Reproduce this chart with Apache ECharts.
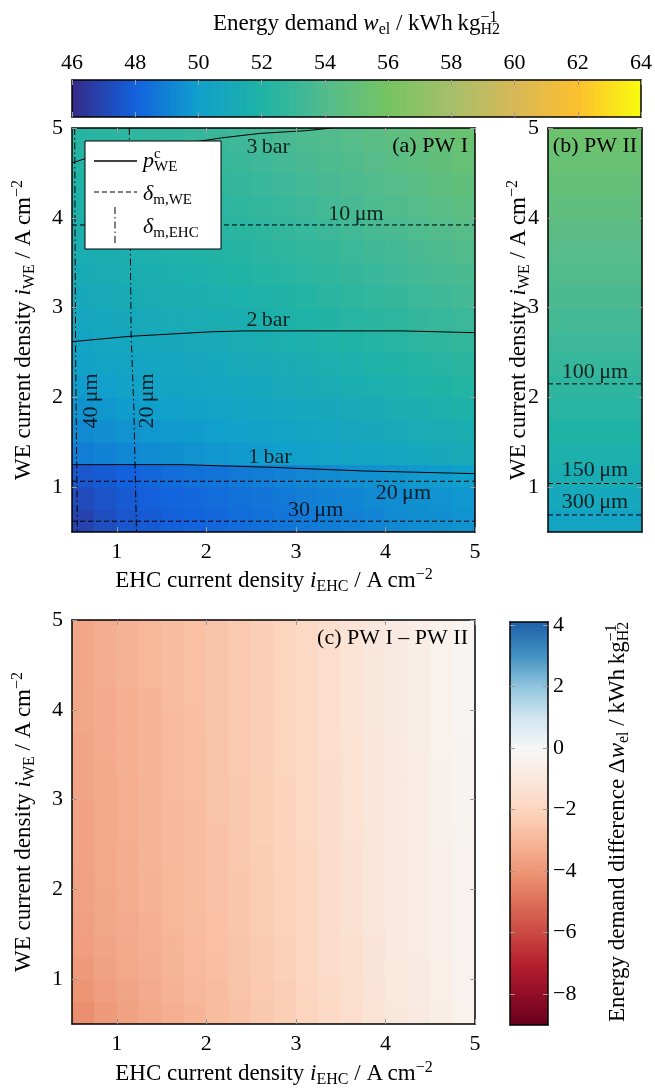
<!DOCTYPE html>
<html><head><meta charset="utf-8">
<script src="https://cdn.jsdelivr.net/npm/echarts@6/dist/echarts.min.js"></script>
<style>html,body{margin:0;padding:0;background:#fff}#c{width:655px;height:1089px}</style>
</head><body><div id="c"></div>
<script>
// ---------------- data ----------------
// cell centres (A cm^-2)
const ehcCells = [0.625,0.875,1.125,1.375,1.625,1.875,2.125,2.375,2.625,2.875,3.125,3.375,3.625,3.875,4.125,4.375,4.625,4.875];
const weCells  = [0.625,0.875,1.125,1.375,1.625,1.875,2.125,2.375,2.625,2.875,3.125,3.375,3.625,3.875,4.125,4.375,4.625,4.875];
// (a) PW I energy demand, rows = WE (bottom -> top), cols = EHC
const pw1Rows = [
 [46.9,47.3,47.6,47.8,47.95,48.1,48.2,48.35,48.5,48.65,48.8,48.9,49.0,49.15,49.3,49.4,49.5,49.6],
 [47.2,47.5,47.75,47.95,48.1,48.25,48.35,48.5,48.65,48.8,48.95,49.05,49.15,49.3,49.4,49.5,49.6,49.7],
 [47.6,47.8,48.0,48.2,48.35,48.5,48.6,48.75,48.9,49.05,49.2,49.3,49.45,49.55,49.65,49.8,49.9,50.0],
 [48.9,49.05,49.2,49.35,49.5,49.6,49.7,49.8,49.9,50.0,50.15,50.3,50.4,50.55,50.7,50.8,50.95,51.1],
 [49.3,49.45,49.6,49.7,49.8,49.9,50.0,50.1,50.2,50.35,50.5,50.6,50.75,50.9,51.0,51.15,51.3,51.4],
 [49.6,49.75,49.9,50.0,50.1,50.2,50.3,50.4,50.5,50.65,50.8,50.9,51.05,51.2,51.35,51.5,51.65,51.8],
 [49.9,50.05,50.2,50.3,50.4,50.5,50.6,50.7,50.85,51.0,51.1,51.25,51.4,51.55,51.7,51.85,52.0,52.15],
 [50.2,50.35,50.45,50.55,50.65,50.75,50.85,51.0,51.1,51.25,51.4,51.55,51.7,51.85,52.0,52.15,52.3,52.45],
 [50.45,50.6,50.7,50.8,50.9,51.0,51.1,51.25,51.4,51.55,51.7,51.85,52.0,52.15,52.3,52.5,52.65,52.8],
 [50.7,50.85,50.95,51.05,51.15,51.25,51.35,51.5,51.65,51.8,51.95,52.1,52.3,52.45,52.6,52.8,52.95,53.1],
 [50.95,51.1,51.2,51.3,51.4,51.5,51.6,51.75,51.9,52.05,52.2,52.4,52.55,52.75,52.9,53.1,53.25,53.4],
 [51.2,51.3,51.4,51.5,51.6,51.75,51.85,52.0,52.15,52.3,52.5,52.65,52.85,53.0,53.2,53.4,53.55,53.7],
 [51.4,51.5,51.6,51.7,51.85,51.95,52.1,52.25,52.4,52.55,52.75,52.9,53.1,53.3,53.45,53.65,53.85,54.0],
 [51.6,51.7,51.8,51.9,52.05,52.15,52.3,52.45,52.6,52.8,52.95,53.15,53.35,53.55,53.7,53.9,54.1,54.3],
 [51.8,51.9,52.0,52.1,52.25,52.35,52.5,52.65,52.8,53.0,53.2,53.4,53.6,53.8,54.0,54.2,54.4,54.6],
 [52.0,52.1,52.2,52.3,52.45,52.55,52.7,52.85,53.0,53.2,53.4,53.6,53.8,54.0,54.2,54.45,54.65,54.85],
 [52.15,52.25,52.35,52.5,52.6,52.75,52.9,53.05,53.2,53.4,53.6,53.8,54.0,54.25,54.45,54.65,54.9,55.1],
 [52.3,52.4,52.5,52.65,52.8,52.9,53.05,53.2,53.4,53.6,53.8,54.0,54.2,54.45,54.65,54.9,55.1,55.3]
];
// (b) PW II energy demand by WE current density (bottom -> top)
const pw2Col = [50.4,50.8,51.3,51.7,52.0,52.3,52.6,52.9,53.2,53.5,53.75,54.0,54.25,54.5,54.75,55.0,55.25,55.5];
// (c) difference PW I - PW II
const diffRows = [
 [-4.2,-3.9,-3.65,-3.45,-3.25,-3.05,-2.85,-2.65,-2.45,-2.25,-2.0,-1.75,-1.5,-1.25,-1.0,-0.8,-0.6,-0.4],
 [-4.0,-3.75,-3.55,-3.35,-3.15,-2.95,-2.8,-2.6,-2.4,-2.2,-1.95,-1.7,-1.45,-1.2,-0.95,-0.75,-0.55,-0.35],
 [-3.85,-3.65,-3.45,-3.3,-3.1,-2.9,-2.75,-2.55,-2.35,-2.15,-1.9,-1.65,-1.4,-1.15,-0.95,-0.75,-0.55,-0.35],
 [-3.75,-3.55,-3.4,-3.25,-3.05,-2.9,-2.7,-2.55,-2.35,-2.15,-1.9,-1.65,-1.4,-1.15,-0.9,-0.7,-0.5,-0.3],
 [-3.7,-3.5,-3.35,-3.2,-3.0,-2.85,-2.7,-2.5,-2.3,-2.1,-1.85,-1.6,-1.35,-1.1,-0.9,-0.7,-0.5,-0.3],
 [-3.65,-3.5,-3.3,-3.15,-3.0,-2.85,-2.65,-2.5,-2.3,-2.1,-1.85,-1.6,-1.35,-1.1,-0.9,-0.7,-0.5,-0.3],
 [-3.65,-3.45,-3.3,-3.15,-3.0,-2.8,-2.65,-2.5,-2.3,-2.1,-1.85,-1.6,-1.35,-1.1,-0.9,-0.7,-0.5,-0.3],
 [-3.6,-3.45,-3.3,-3.1,-2.95,-2.8,-2.65,-2.45,-2.3,-2.05,-1.85,-1.6,-1.35,-1.1,-0.9,-0.7,-0.5,-0.3],
 [-3.6,-3.4,-3.25,-3.1,-2.95,-2.8,-2.65,-2.45,-2.25,-2.05,-1.8,-1.55,-1.3,-1.1,-0.85,-0.65,-0.45,-0.3],
 [-3.6,-3.4,-3.25,-3.1,-2.95,-2.8,-2.6,-2.45,-2.25,-2.05,-1.8,-1.55,-1.3,-1.05,-0.85,-0.65,-0.45,-0.25],
 [-3.55,-3.4,-3.25,-3.1,-2.9,-2.75,-2.6,-2.45,-2.25,-2.05,-1.8,-1.55,-1.3,-1.05,-0.85,-0.65,-0.45,-0.25],
 [-3.55,-3.4,-3.2,-3.05,-2.9,-2.75,-2.6,-2.4,-2.2,-2.0,-1.8,-1.55,-1.3,-1.05,-0.85,-0.65,-0.45,-0.25],
 [-3.55,-3.35,-3.2,-3.05,-2.9,-2.75,-2.6,-2.4,-2.2,-2.0,-1.75,-1.5,-1.3,-1.05,-0.85,-0.6,-0.4,-0.25],
 [-3.5,-3.35,-3.2,-3.05,-2.9,-2.75,-2.55,-2.4,-2.2,-2.0,-1.75,-1.5,-1.25,-1.0,-0.8,-0.6,-0.4,-0.2],
 [-3.5,-3.35,-3.2,-3.05,-2.85,-2.7,-2.55,-2.4,-2.2,-2.0,-1.75,-1.5,-1.25,-1.0,-0.8,-0.6,-0.4,-0.2],
 [-3.5,-3.3,-3.15,-3.0,-2.85,-2.7,-2.55,-2.4,-2.2,-2.0,-1.75,-1.5,-1.25,-1.0,-0.8,-0.6,-0.4,-0.2],
 [-3.5,-3.3,-3.15,-3.0,-2.85,-2.7,-2.55,-2.4,-2.2,-2.0,-1.75,-1.5,-1.25,-1.0,-0.8,-0.6,-0.4,-0.2],
 [-3.5,-3.3,-3.15,-3.0,-2.85,-2.7,-2.55,-2.4,-2.2,-2.0,-1.75,-1.5,-1.25,-1.0,-0.8,-0.6,-0.4,-0.2]
];
// compressor pressure contours p_WE^c (panel a)
const bar1X = [0.5,1.73,2.74,3.75,5.0];           const bar1Y = [1.25,1.25,1.22,1.18,1.15];
const bar2X = [0.5,1.15,2.06,2.43,4.19,5.0];      const bar2Y = [2.62,2.68,2.73,2.74,2.74,2.72];
const bar3X = [0.5,0.65,2.17,2.6,3.11,3.4];       const bar3Y = [4.61,4.66,4.89,4.94,4.97,5.0];
// membrane thickness delta_m,WE (horizontal, panel a)
const weMem10 = 3.92, weMem20 = 1.065, weMem30 = 0.62;
// membrane thickness delta_m,EHC (vertical, panel a)
const ehc40X = [0.53,0.54,0.56];        const ehc40Y = [5.0,2.5,0.5];
const ehc20X = [1.14,1.16,1.19,1.22];   const ehc20Y = [5.0,2.7,1.9,0.5];
// panel b membrane thickness levels
const pw2Mem100 = 2.15, pw2Mem150 = 1.04, pw2Mem300 = 0.69;
// tick values
const mainTicks = [1,2,3,4,5];
const diffTicks = [-8,-6,-4,-2,0,2,4];
// annotation anchors (data coords)
const annotA = [['3\u2009bar',2.69,4.79],['2\u2009bar',2.69,2.86],['1\u2009bar',2.71,1.33],
                ['10\u2009μm',3.67,4.04],['20\u2009μm',4.2,0.93],['30\u2009μm',3.22,0.74]];
const annotAVert = [['40\u2009μm',0.71,1.96],['20\u2009μm',1.34,1.96]];
const annotB = [['100\u2009μm',0.5,2.28],['150\u2009μm',0.5,1.19],['300\u2009μm',0.5,0.83]];

// ---------------- styling ----------------
const FONT = '"Liberation Serif","DejaVu Serif",serif';
const FS = 22, TFS = 23, SFS = 16;
const parula = ['#352a87','#1361dd','#10a0cc','#1fb3a6','#52bb8e','#76c463','#a6bf6b','#d7b858','#fcc02f','#f9fb0e'];
const rdbu = ['#67001f','#910d26','#b6202f','#ca4842','#dd6f59','#ed9676','#f7b799','#fcd5bf','#fae7dc','#f7f7f7','#d1e5f0','#92c5de','#4393c3','#2166ac'];

const pairs = (xs, ys) => xs.map((x, i) => [x, ys[i]]);
const heatA = []; pw1Rows.forEach((row, r) => row.forEach((v, c) => heatA.push([ehcCells[c], weCells[r], v])));
const heatC = []; diffRows.forEach((row, r) => row.forEach((v, c) => heatC.push([ehcCells[c], weCells[r], v])));
const heatB = pw2Col.map((v, r) => [0.5, weCells[r], v]);
const cbTop = []; for (let k = 0; k <= 360; k++) { const v = 46 + k * 0.05; cbTop.push([v, 0.5, v]); }
const cbDiff = []; for (let k = 0; k <= 262; k++) { const v = -9 + k * 0.05; cbDiff.push([0.5, v, v]); }

function cellRender(hw, hh) {
  return function (params, api) {
    const x = api.value(0), y = api.value(1);
    const p0 = api.coord([x - hw, y + hh]);
    const p1 = api.coord([x + hw, y - hh]);
    return { type: 'rect', shape: { x: p0[0] - 0.3, y: p0[1] - 0.3, width: p1[0] - p0[0] + 0.8, height: p1[1] - p0[1] + 0.8 },
             style: { fill: api.visual('color') } };
  };
}
const frameLine = { show: true, onZero: false, lineStyle: { color: '#000', width: 1.5 } };
const tickIn = (vals) => ({ show: true, inside: true, length: 5, lineStyle: { color: '#9a9a9a', width: 1 }, customValues: vals });
const lab = (vals, margin) => ({ show: true, color: '#000', fontSize: FS, fontFamily: FONT, margin: margin, customValues: vals });
function ax(extra) {
  return Object.assign({ type: 'value', axisLine: frameLine, axisTick: { show: false }, axisLabel: { show: false },
    splitLine: { show: false }, z: 10 }, extra);
}

const xAxis = [
  ax({ gridIndex: 0, position: 'bottom', min: 0.5, max: 5, axisTick: tickIn(mainTicks), axisLabel: lab(mainTicks, 9) }),
  ax({ gridIndex: 0, position: 'top', min: 0.5, max: 5, axisTick: tickIn(mainTicks) }),
  ax({ gridIndex: 1, position: 'bottom', min: 0, max: 1 }),
  ax({ gridIndex: 1, position: 'top', min: 0, max: 1 }),
  ax({ gridIndex: 2, position: 'bottom', min: 0.5, max: 5, axisTick: tickIn(mainTicks), axisLabel: lab(mainTicks, 9) }),
  ax({ gridIndex: 2, position: 'top', min: 0.5, max: 5, axisTick: tickIn(mainTicks) }),
  ax({ gridIndex: 3, position: 'top', min: 46, max: 64, interval: 2, axisTick: { show: true, inside: true, length: 5, lineStyle: { color: '#9a9a9a' } },
       axisLabel: { show: true, color: '#000', fontSize: FS, fontFamily: FONT, margin: 6 } }),
  ax({ gridIndex: 3, position: 'bottom', min: 46, max: 64, interval: 2, axisTick: { show: true, inside: true, length: 5, lineStyle: { color: '#9a9a9a' } } }),
  ax({ gridIndex: 4, position: 'bottom', min: 0, max: 1 }),
  ax({ gridIndex: 4, position: 'top', min: 0, max: 1 })
];
const minusFmt = (v) => (v < 0 ? '\u2212' + Math.abs(v) : String(v));
const yAxis = [
  ax({ gridIndex: 0, position: 'left', min: 0.5, max: 5, axisTick: tickIn(mainTicks), axisLabel: lab(mainTicks, 9) }),
  ax({ gridIndex: 0, position: 'right', min: 0.5, max: 5, axisTick: tickIn(mainTicks) }),
  ax({ gridIndex: 1, position: 'left', min: 0.5, max: 5, axisTick: tickIn(mainTicks), axisLabel: lab(mainTicks, 9) }),
  ax({ gridIndex: 1, position: 'right', min: 0.5, max: 5, axisTick: tickIn(mainTicks) }),
  ax({ gridIndex: 2, position: 'left', min: 0.5, max: 5, axisTick: tickIn(mainTicks), axisLabel: lab(mainTicks, 9) }),
  ax({ gridIndex: 2, position: 'right', min: 0.5, max: 5, axisTick: tickIn(mainTicks) }),
  ax({ gridIndex: 3, position: 'left', min: 0, max: 1 }),
  ax({ gridIndex: 3, position: 'right', min: 0, max: 1 }),
  ax({ gridIndex: 4, position: 'left', min: -9, max: 4.1, axisTick: tickIn(diffTicks) }),
  ax({ gridIndex: 4, position: 'right', min: -9, max: 4.1, axisTick: tickIn(diffTicks),
       axisLabel: Object.assign(lab(diffTicks, 5), { formatter: minusFmt }) })
];

function lineS(xi, yi, data, type) {
  return { type: 'line', xAxisIndex: xi, yAxisIndex: yi, data: data, symbol: 'none', silent: true, z: 3, clip: true,
           lineStyle: { color: '#000', width: 1, type: type } };
}
function labelS(xi, yi, arr, rotate) {
  return { type: 'scatter', xAxisIndex: xi, yAxisIndex: yi, symbolSize: 1, silent: true, z: 4,
           itemStyle: { color: 'rgba(0,0,0,0)' },
           data: arr.map(a => ({ name: a[0], value: [a[1], a[2]] })),
           label: { show: true, position: 'inside', formatter: '{b}', color: '#000', fontSize: FS, fontFamily: FONT, rotate: rotate } };
}
const DASH = [5, 3], DASHDOT = [7, 3, 1.5, 3];

const series = [
  { type: 'custom', xAxisIndex: 0, yAxisIndex: 0, data: heatA, renderItem: cellRender(0.125, 0.125), encode: { x: 0, y: 1 }, z: 1, clip: true, silent: true },
  { type: 'custom', xAxisIndex: 2, yAxisIndex: 2, data: heatB, renderItem: cellRender(0.5, 0.125), encode: { x: 0, y: 1 }, z: 1, clip: true, silent: true },
  { type: 'custom', xAxisIndex: 4, yAxisIndex: 4, data: heatC, renderItem: cellRender(0.125, 0.125), encode: { x: 0, y: 1 }, z: 1, clip: true, silent: true },
  { type: 'custom', xAxisIndex: 6, yAxisIndex: 6, data: cbTop, renderItem: cellRender(0.025, 0.5), encode: { x: 0, y: 1 }, z: 1, clip: true, silent: true },
  { type: 'custom', xAxisIndex: 8, yAxisIndex: 8, data: cbDiff, renderItem: cellRender(0.5, 0.025), encode: { x: 0, y: 1 }, z: 1, clip: true, silent: true },
  lineS(0, 0, pairs(bar1X, bar1Y), 'solid'),
  lineS(0, 0, pairs(bar2X, bar2Y), 'solid'),
  lineS(0, 0, pairs(bar3X, bar3Y), 'solid'),
  lineS(0, 0, [[0.5, weMem10], [5, weMem10]], DASH),
  lineS(0, 0, [[0.5, weMem20], [5, weMem20]], DASH),
  lineS(0, 0, [[0.5, weMem30], [5, weMem30]], DASH),
  lineS(0, 0, pairs(ehc40X, ehc40Y), DASHDOT),
  lineS(0, 0, pairs(ehc20X, ehc20Y), DASHDOT),
  lineS(2, 2, [[0, pw2Mem100], [1, pw2Mem100]], DASH),
  lineS(2, 2, [[0, pw2Mem150], [1, pw2Mem150]], DASH),
  lineS(2, 2, [[0, pw2Mem300], [1, pw2Mem300]], DASH),
  labelS(0, 0, annotA, 0),
  labelS(0, 0, annotAVert, 90),
  labelS(2, 2, annotB, 0)
];

function rich(size, sub) {
  return {
    i: { fontStyle: 'italic', fontSize: size, fontFamily: FONT, lineHeight: 28, fill: '#000' },
    sub: { fontSize: sub, fontFamily: FONT, lineHeight: sub, verticalAlign: 'bottom', fill: '#000' },
    sup: { fontSize: sub, fontFamily: FONT, lineHeight: sub, verticalAlign: 'top', fill: '#000' },
    supz: { fontSize: sub, fontFamily: FONT, lineHeight: sub, verticalAlign: 'top', width: 0, fill: '#000' }
  };
}
function txt(x, y, text, opts) {
  opts = opts || {};
  const al = opts.align || 'center';
  const size = opts.size || TFS;
  return { type: 'text', x: x, y: y, rotation: opts.rot || 0, z: 100,
    style: { text: text, fill: '#000', fontSize: size, fontFamily: FONT, lineHeight: 28,
             align: al, textAlign: al, verticalAlign: 'middle', textVerticalAlign: 'middle', rich: rich(size, opts.sub || SFS) } };
}
const R90 = Math.PI / 2;
const weLabel = 'WE current density {i|i}{sub|WE} / A\u2009cm{sup|\u22122}';
const ehcLabel = 'EHC current density {i|i}{sub|EHC} / A\u2009cm{sup|\u22122}';
const graphic = [
  txt(213, 24, 'Energy demand {i|w}{sub|el} / kWh\u2009kg{supz|\u22121}{sub|H2}', { align: 'left' }),
  txt(24, 330, weLabel, { rot: R90 }),
  txt(519, 330, weLabel, { rot: R90 }),
  txt(274, 581, ehcLabel),
  txt(24, 822, weLabel, { rot: R90 }),
  txt(274, 1074, ehcLabel),
  txt(618, 1022, 'Energy demand difference \u0394{i|w}{sub|el} / kWh\u2009kg{supz|\u22121}{sub|H2}', { rot: R90, align: 'left' }),
  txt(468, 146, '(a) PW I', { align: 'right', size: FS }),
  txt(595, 146, '(b) PW II', { size: FS }),
  txt(468, 638, '(c) PW I \u2013 PW II', { align: 'right', size: FS }),
  // legend box
  { type: 'rect', z: 99, shape: { x: 85, y: 141, width: 136, height: 108 }, style: { fill: '#fff', stroke: '#000', lineWidth: 1 } },
  { type: 'line', z: 100, shape: { x1: 94, y1: 161, x2: 137, y2: 161 }, style: { stroke: '#000', lineWidth: 1.3 } },
  { type: 'line', z: 100, shape: { x1: 94, y1: 192, x2: 137, y2: 192 }, style: { stroke: '#000', lineWidth: 1, lineDash: DASH } },
  { type: 'line', z: 100, shape: { x1: 115, y1: 207, x2: 115, y2: 243 }, style: { stroke: '#000', lineWidth: 1, lineDash: DASHDOT } },
  txt(143, 161, '{i|p}{supz|c}{sub|WE}', { align: 'left', size: FS, sub: 15 }),
  txt(143, 194, '{i|\u03b4}{sub|m,WE}', { align: 'left', size: FS, sub: 15 }),
  txt(143, 227, '{i|\u03b4}{sub|m,EHC}', { align: 'left', size: FS, sub: 15 })
];

const option = {
  animation: false,
  backgroundColor: '#fff',
  grid: [
    { left: 72, top: 128, width: 403, height: 404 },
    { left: 548, top: 128, width: 94, height: 404 },
    { left: 72, top: 620, width: 403, height: 404 },
    { left: 72, top: 80, width: 569, height: 37 },
    { left: 510, top: 622, width: 38, height: 403 }
  ],
  xAxis: xAxis,
  yAxis: yAxis,
  visualMap: [
    { type: 'continuous', show: false, min: 46, max: 64, dimension: 2, seriesIndex: [0, 1, 3], inRange: { color: parula } },
    { type: 'continuous', show: false, min: -9, max: 4, dimension: 2, seriesIndex: [2, 4], inRange: { color: rdbu } }
  ],
  series: series,
  graphic: graphic
};
const chart = echarts.init(document.getElementById('c'), null, { renderer: 'canvas' });
chart.setOption(option);
</script></body></html>
